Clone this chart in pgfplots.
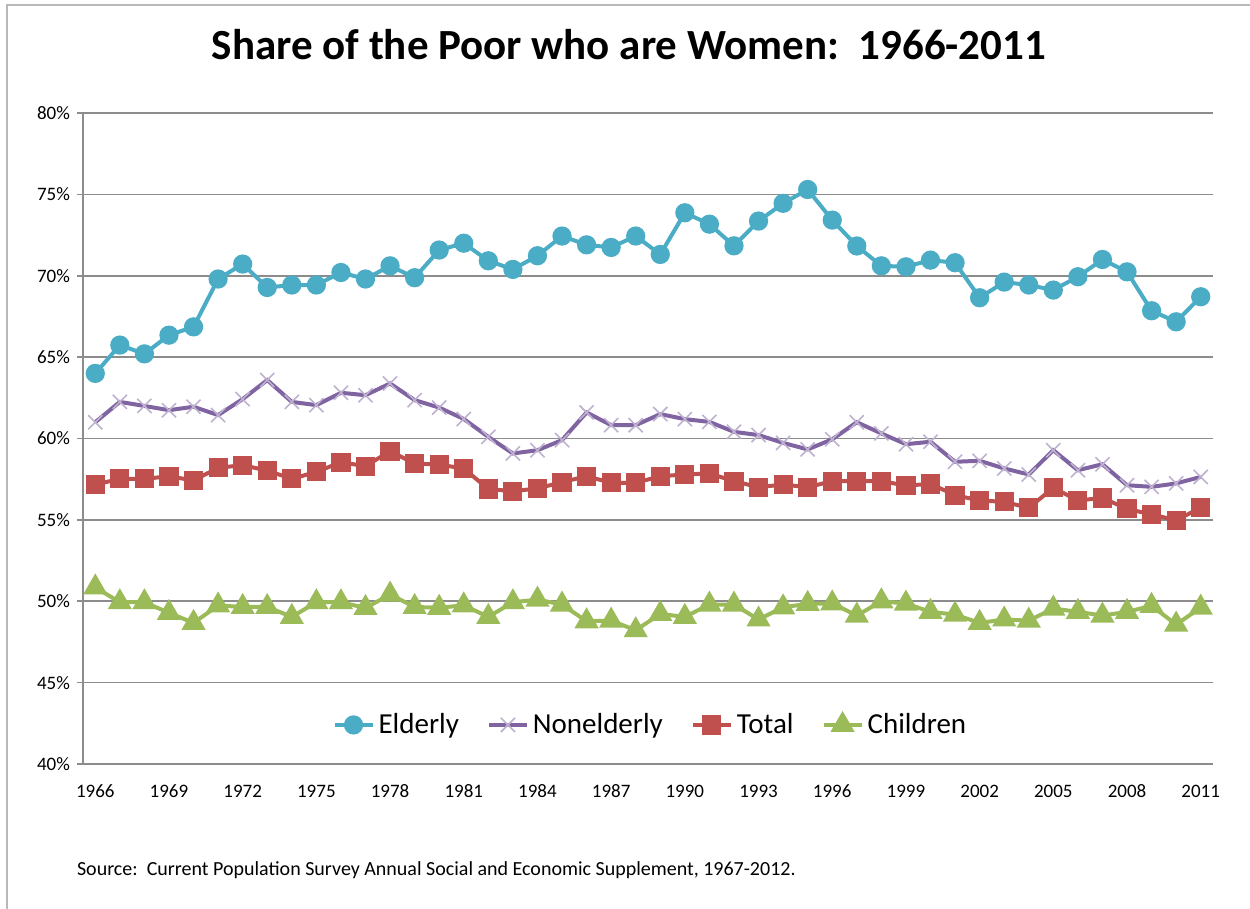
\documentclass[border=0pt]{standalone}
\usepackage{fontspec}
\setmainfont{Carlito}
\usepackage{pgfplots}
\usepackage{pgfplotstable}
\pgfplotsset{compat=1.18}
\definecolor{celd}{HTML}{4BACC6}
\definecolor{cnon}{HTML}{8064A2}
\definecolor{ctot}{HTML}{C0504D}
\definecolor{cchi}{HTML}{9BBB59}
\definecolor{cgrid}{HTML}{8C8C8C}

\pgfplotstableread{
i year E N T C
0 1966 64.0 61.0 57.17 50.85
1 1967 65.74 62.25 57.52 49.94
2 1968 65.2 62.0 57.52 49.94
3 1969 66.35 61.74 57.68 49.29
4 1970 66.86 61.95 57.42 48.67
5 1971 69.8 61.44 58.2 49.74
6 1972 70.72 62.42 58.36 49.65
7 1973 69.28 63.59 58.03 49.65
8 1974 69.43 62.25 57.52 49.04
9 1975 69.43 62.05 57.95 49.94
10 1976 70.2 62.81 58.54 49.94
11 1977 69.8 62.66 58.3 49.59
12 1978 70.61 63.38 59.22 50.41
13 1979 69.88 62.36 58.46 49.65
14 1980 71.58 61.9 58.4 49.6
15 1981 72.0 61.2 58.15 49.75
16 1982 70.92 60.1 56.9 49.04
17 1983 70.39 59.08 56.76 49.94
18 1984 71.23 59.28 56.93 50.1
19 1985 72.44 59.9 57.32 49.8
20 1986 71.9 61.6 57.68 48.77
21 1987 71.74 60.82 57.28 48.81
22 1988 72.44 60.82 57.28 48.22
23 1989 71.31 61.5 57.68 49.22
24 1990 73.87 61.19 57.79 49.04
25 1991 73.17 61.02 57.85 49.8
26 1992 71.84 60.41 57.38 49.8
27 1993 73.36 60.21 57.01 48.88
28 1994 74.45 59.73 57.17 49.63
29 1995 75.3 59.33 57.01 49.84
30 1996 73.42 59.95 57.38 49.87
31 1997 71.83 61.0 57.38 49.12
32 1998 70.61 60.31 57.38 50.0
33 1999 70.55 59.65 57.11 49.86
34 2000 70.96 59.8 57.21 49.35
35 2001 70.8 58.57 56.52 49.18
36 2002 68.65 58.63 56.19 48.67
37 2003 69.61 58.16 56.11 48.88
38 2004 69.43 57.79 55.74 48.81
39 2005 69.12 59.28 56.97 49.55
40 2006 69.94 58.05 56.19 49.35
41 2007 71.0 58.42 56.35 49.12
42 2008 70.24 57.13 55.68 49.35
43 2009 67.85 57.03 55.33 49.72
44 2010 67.17 57.24 54.98 48.57
45 2011 68.71 57.64 55.74 49.61
}\data

\begin{document}
\begin{tikzpicture}
\useasboundingbox (0,0) rectangle (625pt,-454.5pt);
\draw[gray!55, line width=0.8pt] (3.5pt,-454.5pt) -- (3.5pt,-2.5pt) -- (625pt,-2.5pt);
\node[font=\fontsize{21.5}{24}\selectfont\bfseries] at (314.5pt,-22.5pt) {Share of the Poor who are Women:\ \ 1966-2011};
\begin{axis}[
  at={(41.5pt,-382pt)}, anchor=south west,
  scale only axis, width=565pt, height=325.5pt,
  xmin=-0.5, xmax=45.5, ymin=40, ymax=80,
  axis x line*=bottom, axis y line*=left,
  axis line style={cgrid, line width=0.8pt},
  xtick={0,3,...,45},
  xticklabels={1966,1969,1972,1975,1978,1981,1984,1987,1990,1993,1996,1999,2002,2005,2008,2011},
  xtick style={draw=none},
  minor xtick={-0.5,0.5,...,45.5},
  minor tick length=2.5pt,
  minor x tick style={cgrid, line width=0.8pt},
  ytick={40,45,...,80},
  yticklabel={\pgfmathprintnumber{\tick}\%},
  ytick style={cgrid, line width=0.8pt},
  major tick length=3pt,
  tick align=outside,
  ymajorgrids,
  major grid style={cgrid, line width=0.8pt},
  ticklabel style={font=\fontsize{9.5}{10}\selectfont},
  xticklabel style={text height=7pt, text depth=0pt, yshift=-3pt},
  /pgf/number format/assume math mode=true,
  legend columns=4,
  legend style={at={(0.503,0.06)}, anchor=center, draw=none, fill=none,
    font=\fontsize{14.5}{16}\selectfont,
    /tikz/every even column/.append style={column sep=12pt}},
  legend image code/.code={\draw[mark repeat=2,mark phase=2] plot coordinates {(0pt,0pt)(9.5pt,0pt)(19pt,0pt)};},
]
\addplot[celd, line width=2pt, mark=*, mark size=3.8pt, mark options={solid}] table[x=i,y=E]{\data};
\addlegendentry{Elderly}
\addplot[cnon, line width=2pt, mark=x, mark size=5pt, mark options={solid, line width=0.8pt, draw=cnon!50}] table[x=i,y=N]{\data};
\addlegendentry{Nonelderly}
\addplot[ctot, line width=2pt, mark=square*, mark size=3.8pt, mark options={solid}] table[x=i,y=T]{\data};
\addlegendentry{Total}
\addplot[cchi, line width=2pt, mark=triangle*, mark size=5pt, mark options={solid}] table[x=i,y=C]{\data};
\addlegendentry{Children}
\end{axis}
\node[anchor=west, font=\fontsize{10}{12}\selectfont] at (35pt,-435pt) {Source:\ \ Current Population Survey Annual Social and Economic Supplement, 1967-2012.};
\end{tikzpicture}
\end{document}
